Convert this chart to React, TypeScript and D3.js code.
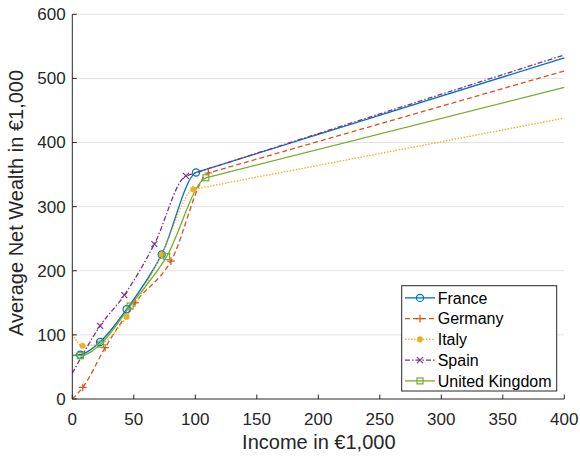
import React from "react";
import * as d3 from "d3";

const countries = ["France", "Germany", "Italy", "Spain", "United Kingdom"];
const colors = ["#0072BD", "#D95319", "#EDB120", "#7E2F8E", "#77AC30"];

const franceIncome = [0, 6.5, 22.6, 44.2, 72.7, 100.6, 400];
const franceWealth = [68, 69, 89, 140, 225.5, 353.3, 532];
const franceMarked = [1, 2, 3, 4, 5];

const germanyIncome = [0, 8.5, 26.7, 51, 80.2, 110.6, 400];
const germanyWealth = [0, 18, 80, 150, 215, 352.5, 511.6];
const germanyMarked = [1, 2, 3, 4, 5];

const italyIncome = [0, 8.3, 22.5, 44.2, 72.7, 98.4, 400];
const italyWealth = [101, 83, 86, 128, 225.5, 327, 438];
const italyMarked = [1, 3, 4, 5];

const spainIncome = [0, 22.6, 42.3, 66.7, 92.4, 400];
const spainWealth = [40, 114, 162, 241.5, 348, 536.6];
const spainMarked = [1, 2, 3, 4];

const ukIncome = [0, 6.5, 23, 47, 76.7, 108.6, 400];
const ukWealth = [67.5, 67.5, 85.5, 145, 222, 345, 486];
const ukMarked = [1, 2, 3, 4, 5];

const xTicks = [0, 50, 100, 150, 200, 250, 300, 350, 400];
const yTicks = [0, 100, 200, 300, 400, 500, 600];

const xLabel = "Income in €1,000";
const yLabel = "Average Net Wealth in €1,000";

const series = [
  { income: franceIncome, wealth: franceWealth, marked: franceMarked, marker: "circle", dash: null },
  { income: germanyIncome, wealth: germanyWealth, marked: germanyMarked, marker: "plus", dash: "5,3" },
  { income: italyIncome, wealth: italyWealth, marked: italyMarked, marker: "dot", dash: "1.5,1.5" },
  { income: spainIncome, wealth: spainWealth, marked: spainMarked, marker: "cross", dash: "5,2,1.5,2" },
  { income: ukIncome, wealth: ukWealth, marked: ukMarked, marker: "square", dash: null },
];

const FONT = "'Liberation Sans', Arial, Helvetica, sans-serif";
const AX = "#262626";

function Marker({ type, x, y, color }: { type: string; x: number; y: number; color: string }) {
  const sw = 1.2;
  if (type === "circle") return <circle cx={x} cy={y} r={3.6} fill="none" stroke={color} strokeWidth={sw} />;
  if (type === "dot") return <circle cx={x} cy={y} r={2.8} fill={color} stroke={color} strokeWidth={0.5} />;
  if (type === "square") return <rect x={x - 3} y={y - 3} width={6} height={6} fill="none" stroke={color} strokeWidth={sw} />;
  if (type === "plus")
    return (
      <path d={`M${x - 3.8},${y}H${x + 3.8}M${x},${y - 3.8}V${y + 3.8}`} stroke={color} strokeWidth={sw} fill="none" />
    );
  return (
    <path d={`M${x - 3},${y - 3}L${x + 3},${y + 3}M${x - 3},${y + 3}L${x + 3},${y - 3}`} stroke={color} strokeWidth={sw} fill="none" />
  );
}

export default function App() {
  const W = 580, H = 457;
  const x = d3.scaleLinear().domain([0, 400]).range([72.3, 564.3]);
  const y = d3.scaleLinear().domain([0, 600]).range([399, 14.3]);

  const curve = d3
    .line<[number, number]>()
    .x((d) => x(d[0]))
    .y((d) => y(d[1]))
    .curve(d3.curveMonotoneX);

  const paths = series.map((s) => {
    const pts: [number, number][] = s.income.map((v, i) => [v, s.wealth[i]]);
    const n = pts.length;
    const a = pts[n - 2];
    const last = pts[n - 1];
    const f = 1.5 / (last[0] - a[0]);
    const helper: [number, number] = [a[0] + (last[0] - a[0]) * f, a[1] + (last[1] - a[1]) * f];
    const head = [...pts.slice(0, n - 1), helper];
    return curve(head) + `L${x(last[0])},${y(last[1])}`;
  });

  const legX = 401.7, legY = 285.7, legW = 155, legH = 105.3;
  const rowY = (i: number) => 297.9 + i * 20.75;

  return (
    <svg width={W} height={H} style={{ position: "absolute", left: 0, top: 0, background: "#fff" }} fontFamily={FONT}>
      <defs>
        <clipPath id="plot">
          <rect x={x(0)} y={y(600) - 2} width={x(400) - x(0) + 2} height={y(0) - y(600) + 4} />
        </clipPath>
      </defs>
      <rect width={W} height={H} fill="#fff" />
      {yTicks.filter((t) => t > 0).map((t) => (
        <line key={t} x1={x(0)} x2={x(400)} y1={y(t)} y2={y(t)} stroke="#e3e3e3" strokeWidth={1} />
      ))}
      <g clipPath="url(#plot)">
        {series.map((s, i) => (
          <path
            key={i}
            d={paths[i]}
            fill="none"
            stroke={colors[i]}
            strokeWidth={1.3}
            strokeDasharray={s.dash || undefined}
          />
        ))}
        {series.map((s, i) =>
          s.marked.map((k) => (
            <Marker key={`${i}-${k}`} type={s.marker} x={x(s.income[k])} y={y(s.wealth[k])} color={colors[i]} />
          ))
        )}
      </g>
      <line x1={x(0)} x2={x(400)} y1={y(0)} y2={y(0)} stroke={AX} strokeWidth={1} />
      <line x1={x(0)} x2={x(0)} y1={y(0)} y2={y(600)} stroke={AX} strokeWidth={1} />
      {xTicks.map((t) => (
        <g key={t}>
          <line x1={x(t)} x2={x(t)} y1={y(0)} y2={y(0) - 4.5} stroke={AX} strokeWidth={1} />
          <text x={x(t)} y={425} textAnchor="middle" fontSize={17} fill={AX}>
            {t}
          </text>
        </g>
      ))}
      {yTicks.map((t) => (
        <g key={t}>
          <line x1={x(0)} x2={x(0) + 4.5} y1={y(t)} y2={y(t)} stroke={AX} strokeWidth={1} />
          <text x={65.7} y={y(t)} dy="0.35em" textAnchor="end" fontSize={17} fill={AX}>
            {t}
          </text>
        </g>
      ))}
      <text x={(x(0) + x(400)) / 2 + 0.5} y={449} textAnchor="middle" fontSize={20} fill={AX}>
        {xLabel}
      </text>
      <text transform={`translate(22.5,${203}) rotate(-90)`} textAnchor="middle" fontSize={20} fill={AX}>
        {yLabel}
      </text>
      <rect x={legX} y={legY} width={legW} height={legH} fill="#fff" stroke={AX} strokeWidth={1} />
      {countries.map((c, i) => (
        <g key={c}>
          <line
            x1={405}
            x2={435}
            y1={rowY(i)}
            y2={rowY(i)}
            stroke={colors[i]}
            strokeWidth={1.3}
            strokeDasharray={series[i].dash || undefined}
          />
          <Marker type={series[i].marker} x={420} y={rowY(i)} color={colors[i]} />
          <text x={437.7} y={rowY(i)} dy="0.35em" fontSize={16} fill="#000">
            {c}
          </text>
        </g>
      ))}
    </svg>
  );
}
